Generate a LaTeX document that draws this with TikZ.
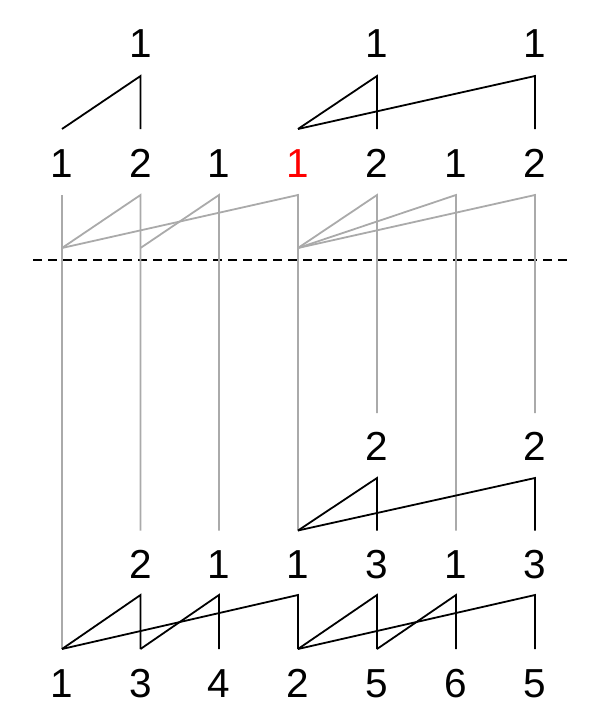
\documentclass[tikz,border=0pt]{standalone}
\usepackage{fontspec}
\setmainfont{Liberation Sans}
\begin{document}
\begin{tikzpicture}[x=1pt,y=-1pt,
  blk/.style={line width=1.8pt,black},
  gry/.style={line width=1.8pt,color={rgb,255:red,170;green,170;blue,170}},
  lab/.style={anchor=base,inner sep=0pt,font=\fontsize{40.5}{42}\selectfont},
  sep/.style={line width=1.2pt,dash pattern=on 9pt off 6pt}]
\useasboundingbox (0,0) rectangle (590,717);
\foreach \i/\x in {1/62,2/140.5,3/219,4/298,5/377,6/456,7/535}{
  \coordinate (at\i) at (\x,76);
  \coordinate (ab\i) at (\x,129);
  \coordinate (gt\i) at (\x,195);
  \coordinate (gj\i) at (\x,248);
  \coordinate (ct\i) at (\x,478);
  \coordinate (cb\i) at (\x,530.5);
  \coordinate (dt\i) at (\x,595);
  \coordinate (db\i) at (\x,649);
  \coordinate (hi\i) at (\x,413);
}
% labels
\node[lab] (r1c2) at (140.5,57) {1};
\node[lab] (r1c5) at (377,57) {1};
\node[lab] (r1c7) at (535,57) {1};
\foreach \i/\x/\t in {1/62/1,2/140.5/2,3/219/1,5/377/2,6/456/1,7/535/2}{
  \node[lab] (r2c\i) at (\x,177) {\t};
}
\node[lab,text=red] (r2c4) at (298,177) {1};
\node[lab] (r3c5) at (377,460) {2};
\node[lab] (r3c7) at (535,460) {2};
\foreach \i/\x/\t in {2/140.5/2,3/219/1,4/298/1,5/377/3,6/456/1,7/535/3}{
  \node[lab] (r4c\i) at (\x,578) {\t};
}
\foreach \i/\x/\t in {1/62/1,2/140.5/3,3/219/4,4/298/2,5/377/5,6/456/6,7/535/5}{
  \node[lab] (r5c\i) at (\x,697) {\t};
}
% dashed separator
\coordinate (sepL) at (33,260);
\coordinate (sepR) at (567,260);
\draw[sep] (sepL) -- (sepR);
% gray structure
\draw[gry] (gt1) -- (db1);
\draw[gry] (gj1) -- (gt2) -- (cb2);
\draw[gry] (gj1) -- (gt4) -- (cb4);
\draw[gry] (gj2) -- (gt3) -- (cb3);
\draw[gry] (gj4) -- (gt5) -- (hi5);
\draw[gry] (gj4) -- (gt6) -- (cb6);
\draw[gry] (gj4) -- (gt7) -- (hi7);
% top black
\draw[blk] (ab1) -- (at2) -- (ab2);
\draw[blk] (ab4) -- (at5) -- (ab5);
\draw[blk] (ab4) -- (at7) -- (ab7);
% middle black
\draw[blk] (cb4) -- (ct5) -- (cb5);
\draw[blk] (cb4) -- (ct7) -- (cb7);
% bottom black
\draw[blk] (db1) -- (dt2) -- (db2);
\draw[blk] (db2) -- (dt3) -- (db3);
\draw[blk] (db1) -- (dt4) -- (db4);
\draw[blk] (db4) -- (dt5) -- (db5);
\draw[blk] (db5) -- (dt6) -- (db6);
\draw[blk] (db4) -- (dt7) -- (db7);
\end{tikzpicture}
\end{document}
